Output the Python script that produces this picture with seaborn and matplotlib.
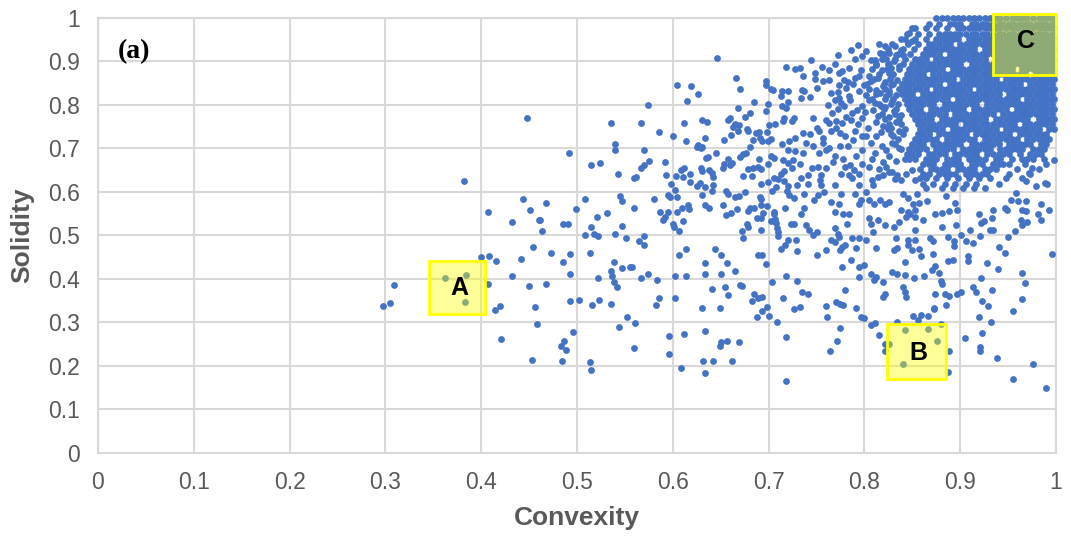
import numpy as np
import pandas as pd
import seaborn as sns
import matplotlib.pyplot as plt
from matplotlib.patches import Rectangle

# ---------------- data ----------------
# sparse left / middle part of the cloud
left_conv = [0.382, 0.444, 0.407, 0.451, 0.432, 0.460, 0.454, 0.400, 0.408, 0.415, 0.442, 0.432,
             0.362, 0.384, 0.407, 0.450, 0.309, 0.305, 0.297, 0.383, 0.414, 0.420, 0.456, 0.458,
             0.421, 0.453, 0.448]
left_sol = [0.625, 0.583, 0.554, 0.559, 0.531, 0.536, 0.474, 0.450, 0.453, 0.442, 0.445, 0.407,
            0.401, 0.409, 0.388, 0.383, 0.386, 0.345, 0.338, 0.347, 0.329, 0.338, 0.335, 0.295,
            0.262, 0.214, 0.770]

mid_conv = [0.646, 0.718, 0.728, 0.666, 0.604, 0.619, 0.670, 0.626, 0.615, 0.697, 0.697, 0.703, 0.705,
            0.714, 0.720, 0.713, 0.720, 0.714, 0.718, 0.685, 0.699, 0.697, 0.668, 0.681, 0.675, 0.574,
            0.535, 0.567, 0.612, 0.630, 0.636, 0.660, 0.658, 0.665, 0.669, 0.663, 0.668, 0.677, 0.679,
            0.687, 0.690, 0.698, 0.700, 0.707, 0.715, 0.724, 0.726, 0.716, 0.586, 0.600, 0.614, 0.634,
            0.626, 0.631, 0.629, 0.625, 0.645, 0.653, 0.661, 0.684, 0.691, 0.693, 0.699, 0.702, 0.681,
            0.721, 0.728, 0.714, 0.720, 0.728, 0.540, 0.540, 0.570, 0.492, 0.515, 0.524, 0.543, 0.567,
            0.570, 0.575, 0.562, 0.559, 0.592, 0.593, 0.603, 0.609, 0.612, 0.611, 0.618, 0.618, 0.625,
            0.628, 0.629, 0.630, 0.635, 0.637, 0.638, 0.641, 0.642, 0.634, 0.642, 0.641, 0.652, 0.653,
            0.658, 0.660, 0.662, 0.670, 0.673, 0.676, 0.673, 0.679, 0.684, 0.689, 0.692, 0.683, 0.690,
            0.699, 0.702, 0.706, 0.715, 0.720, 0.725, 0.724, 0.716, 0.713, 0.706, 0.710, 0.716, 0.720,
            0.692, 0.699, 0.708, 0.704, 0.719, 0.721, 0.727, 0.730, 0.598, 0.602, 0.595, 0.597, 0.604,
            0.580, 0.595, 0.587, 0.604, 0.610, 0.616, 0.617, 0.611, 0.592, 0.590, 0.600, 0.601, 0.606,
            0.630, 0.634, 0.638, 0.652, 0.656, 0.658, 0.665, 0.669, 0.675, 0.656, 0.661, 0.667, 0.679,
            0.681, 0.685, 0.691, 0.692, 0.692, 0.698, 0.688, 0.692, 0.694, 0.706, 0.706, 0.702, 0.707,
            0.708, 0.709, 0.710, 0.710, 0.717, 0.723, 0.726, 0.720, 0.717, 0.713, 0.729, 0.730, 0.677,
            0.679, 0.672, 0.673, 0.692, 0.468, 0.461, 0.463, 0.485, 0.491, 0.499, 0.508, 0.521, 0.531,
            0.515, 0.518, 0.522, 0.508, 0.540, 0.547, 0.545, 0.547, 0.559, 0.551, 0.565, 0.570, 0.570,
            0.473, 0.493, 0.514, 0.485, 0.493, 0.468, 0.522, 0.539, 0.535, 0.547, 0.555, 0.557, 0.537,
            0.539, 0.542, 0.567, 0.574, 0.584, 0.602, 0.614, 0.606, 0.614, 0.634, 0.634, 0.644, 0.650,
            0.657, 0.665, 0.650, 0.641, 0.654, 0.658, 0.670, 0.672, 0.630, 0.649, 0.683, 0.685, 0.689,
            0.693, 0.689, 0.693, 0.697, 0.704, 0.718, 0.730, 0.715, 0.727, 0.698, 0.693, 0.700, 0.688,
            0.709, 0.718, 0.493, 0.502, 0.516, 0.523, 0.536, 0.582, 0.586, 0.602, 0.552, 0.561, 0.544,
            0.496, 0.486, 0.483, 0.488, 0.484, 0.514, 0.515, 0.560, 0.596, 0.612, 0.596, 0.609, 0.634,
            0.649, 0.650, 0.657, 0.669, 0.632, 0.642, 0.662, 0.634, 0.718]
mid_sol = [0.908, 0.888, 0.882, 0.861, 0.846, 0.844, 0.837, 0.826, 0.810, 0.854, 0.846, 0.836, 0.834,
           0.833, 0.831, 0.820, 0.806, 0.798, 0.792, 0.807, 0.803, 0.787, 0.793, 0.782, 0.772, 0.799,
           0.758, 0.758, 0.758, 0.766, 0.761, 0.770, 0.766, 0.757, 0.754, 0.749, 0.740, 0.745, 0.740,
           0.735, 0.737, 0.737, 0.755, 0.756, 0.762, 0.764, 0.770, 0.769, 0.737, 0.728, 0.717, 0.724,
           0.708, 0.704, 0.702, 0.703, 0.690, 0.720, 0.730, 0.720, 0.725, 0.717, 0.716, 0.721, 0.704,
           0.717, 0.724, 0.710, 0.697, 0.693, 0.710, 0.696, 0.696, 0.690, 0.661, 0.666, 0.642, 0.656,
           0.661, 0.670, 0.635, 0.631, 0.669, 0.639, 0.637, 0.650, 0.654, 0.634, 0.642, 0.622, 0.613,
           0.621, 0.656, 0.648, 0.678, 0.680, 0.651, 0.643, 0.635, 0.611, 0.616, 0.601, 0.656, 0.663,
           0.675, 0.662, 0.666, 0.680, 0.688, 0.690, 0.637, 0.653, 0.654, 0.657, 0.653, 0.637, 0.675,
           0.664, 0.683, 0.678, 0.674, 0.666, 0.674, 0.655, 0.647, 0.640, 0.631, 0.630, 0.624, 0.614,
           0.619, 0.622, 0.611, 0.601, 0.601, 0.592, 0.586, 0.616, 0.619, 0.605, 0.592, 0.588, 0.589,
           0.584, 0.553, 0.553, 0.554, 0.563, 0.569, 0.560, 0.533, 0.543, 0.535, 0.526, 0.520, 0.510,
           0.592, 0.569, 0.562, 0.569, 0.601, 0.595, 0.588, 0.591, 0.599, 0.546, 0.551, 0.560, 0.556,
           0.563, 0.563, 0.589, 0.583, 0.569, 0.567, 0.539, 0.539, 0.551, 0.553, 0.548, 0.533, 0.537,
           0.528, 0.517, 0.507, 0.498, 0.564, 0.525, 0.525, 0.490, 0.477, 0.469, 0.489, 0.465, 0.527,
           0.520, 0.510, 0.495, 0.513, 0.575, 0.536, 0.510, 0.525, 0.525, 0.560, 0.584, 0.543, 0.551,
           0.519, 0.504, 0.499, 0.500, 0.503, 0.522, 0.591, 0.580, 0.563, 0.493, 0.486, 0.498, 0.477,
           0.460, 0.457, 0.460, 0.439, 0.410, 0.389, 0.401, 0.439, 0.419, 0.425, 0.428, 0.428, 0.407,
           0.392, 0.382, 0.401, 0.412, 0.398, 0.407, 0.407, 0.454, 0.468, 0.436, 0.410, 0.468, 0.454,
           0.436, 0.418, 0.410, 0.377, 0.382, 0.362, 0.386, 0.383, 0.333, 0.333, 0.350, 0.365, 0.355,
           0.359, 0.454, 0.454, 0.433, 0.392, 0.407, 0.395, 0.356, 0.330, 0.336, 0.327, 0.315, 0.313,
           0.300, 0.266, 0.349, 0.352, 0.339, 0.352, 0.342, 0.339, 0.357, 0.357, 0.313, 0.298, 0.289,
           0.277, 0.256, 0.245, 0.236, 0.212, 0.209, 0.191, 0.242, 0.268, 0.274, 0.227, 0.194, 0.280,
           0.245, 0.254, 0.257, 0.254, 0.212, 0.212, 0.212, 0.183, 0.165]

# upper-middle part (convexity 0.73 - 0.86)
upper_conv = [0.733, 0.736, 0.744, 0.748, 0.748, 0.756, 0.763, 0.769, 0.772, 0.786, 0.793, 0.802, 0.807,
              0.811, 0.816, 0.821, 0.823, 0.833, 0.838, 0.842, 0.847, 0.850, 0.845, 0.850, 0.774, 0.777,
              0.784, 0.757, 0.763, 0.773, 0.772, 0.779, 0.783, 0.790, 0.794, 0.796, 0.805, 0.807, 0.814,
              0.812, 0.819, 0.826, 0.828, 0.735, 0.737, 0.734, 0.743, 0.751, 0.762, 0.765, 0.769, 0.774,
              0.776, 0.779, 0.784, 0.785, 0.787, 0.792, 0.798, 0.802, 0.805, 0.809, 0.814, 0.817, 0.823,
              0.746, 0.760, 0.763, 0.770, 0.777, 0.786, 0.770, 0.775, 0.780, 0.750, 0.753, 0.743, 0.736,
              0.739, 0.746, 0.757, 0.760, 0.769, 0.775, 0.788, 0.791, 0.802, 0.807, 0.812, 0.819, 0.823,
              0.798, 0.736, 0.753,
              0.733, 0.734, 0.741, 0.745, 0.752, 0.754, 0.755, 0.760, 0.769, 0.776, 0.780, 0.785, 0.784,
              0.787, 0.794, 0.790, 0.796, 0.794, 0.802, 0.805, 0.810, 0.816, 0.821, 0.826, 0.809, 0.814,
              0.819, 0.823, 0.829, 0.834, 0.838, 0.843, 0.850, 0.853, 0.840, 0.846, 0.851, 0.855, 0.838,
              0.845, 0.848, 0.853, 0.805, 0.794, 0.741, 0.755]
upper_sol = [0.884, 0.867, 0.903, 0.873, 0.860, 0.887, 0.881, 0.895, 0.914, 0.926, 0.939, 0.923, 0.903,
             0.904, 0.919, 0.935, 0.906, 0.916, 0.927, 0.952, 0.965, 0.977, 0.942, 0.946, 0.873, 0.877,
             0.885, 0.854, 0.857, 0.847, 0.829, 0.858, 0.852, 0.862, 0.866, 0.881, 0.867, 0.854, 0.862,
             0.835, 0.843, 0.873, 0.885, 0.835, 0.831, 0.816, 0.818, 0.839, 0.801, 0.827, 0.812, 0.816,
             0.804, 0.797, 0.820, 0.812, 0.781, 0.789, 0.797, 0.824, 0.812, 0.789, 0.774, 0.797, 0.820,
             0.770, 0.766, 0.758, 0.762, 0.758, 0.766, 0.747, 0.735, 0.728, 0.747, 0.739, 0.732, 0.735,
             0.712, 0.705, 0.712, 0.697, 0.682, 0.705, 0.720, 0.682, 0.728, 0.712, 0.728, 0.751, 0.697,
             0.697, 0.689, 0.689,
             0.665, 0.631, 0.619, 0.654, 0.658, 0.627, 0.615, 0.654, 0.615, 0.642, 0.658, 0.661, 0.638,
             0.631, 0.615, 0.596, 0.581, 0.573, 0.600, 0.581, 0.573, 0.581, 0.573, 0.577, 0.615, 0.635,
             0.638, 0.658, 0.646, 0.638, 0.627, 0.642, 0.650, 0.627, 0.596, 0.585, 0.573, 0.596, 0.558,
             0.554, 0.550, 0.542, 0.658, 0.642, 0.638, 0.638]

# further estimated points in the busy zone left of the core
edge_conv = [0.790, 0.797, 0.812, 0.818, 0.825, 0.831, 0.836, 0.829, 0.834, 0.822, 0.828, 0.816,
             0.826, 0.833, 0.829, 0.822, 0.835, 0.831, 0.826, 0.838, 0.833, 0.828, 0.836, 0.830,
             0.817, 0.812, 0.804, 0.798, 0.793, 0.801, 0.811, 0.794, 0.800, 0.788, 0.781, 0.772,
             0.766, 0.781, 0.790, 0.797, 0.783, 0.811, 0.818, 0.829, 0.836, 0.826, 0.833, 0.819,
             0.808, 0.797, 0.815, 0.826, 0.832, 0.808, 0.789, 0.778, 0.767, 0.763, 0.757, 0.765,
             0.840, 0.832, 0.826, 0.815]
edge_sol = [0.905, 0.912, 0.893, 0.880, 0.895, 0.902, 0.890, 0.868, 0.858, 0.852, 0.845, 0.828,
            0.832, 0.822, 0.808, 0.795, 0.802, 0.786, 0.772, 0.776, 0.760, 0.748, 0.740, 0.728,
            0.738, 0.760, 0.748, 0.770, 0.756, 0.783, 0.805, 0.832, 0.845, 0.848, 0.838, 0.790,
            0.782, 0.772, 0.740, 0.728, 0.705, 0.690, 0.705, 0.712, 0.700, 0.682, 0.670, 0.668,
            0.676, 0.665, 0.652, 0.645, 0.630, 0.628, 0.650, 0.675, 0.668, 0.700, 0.725, 0.740,
            0.915, 0.935, 0.920, 0.940]

# lower-middle part (convexity 0.73 - 0.86, solidity below 0.6)
lower_conv = [0.734, 0.737, 0.739, 0.742, 0.746, 0.750, 0.737, 0.747, 0.752, 0.758, 0.765, 0.769, 0.774,
              0.776, 0.778, 0.784, 0.782, 0.769, 0.772, 0.774, 0.765, 0.769, 0.777, 0.775, 0.780, 0.787,
              0.794, 0.750, 0.760, 0.786, 0.777, 0.791, 0.794, 0.800, 0.794, 0.802, 0.807, 0.805, 0.809,
              0.814, 0.821, 0.831, 0.836, 0.833, 0.834, 0.831, 0.812, 0.807, 0.812, 0.810, 0.819, 0.829,
              0.834, 0.842, 0.842, 0.840, 0.842, 0.852, 0.821, 0.819, 0.843, 0.845, 0.846, 0.850, 0.853,
              0.853, 0.843, 0.853, 0.735, 0.741, 0.733, 0.760, 0.770, 0.775, 0.778, 0.780, 0.791,
              0.761, 0.775, 0.771, 0.764, 0.796, 0.800, 0.807, 0.811, 0.815, 0.822, 0.822, 0.826, 0.842,
              0.840, 0.834, 0.851, 0.856]
lower_sol = [0.550, 0.562, 0.523, 0.512, 0.500, 0.508, 0.596, 0.581, 0.592, 0.600, 0.577, 0.554, 0.573,
             0.596, 0.550, 0.550, 0.527, 0.516, 0.504, 0.497, 0.489, 0.485, 0.473, 0.466, 0.477, 0.493,
             0.493, 0.454, 0.466, 0.443, 0.427, 0.470, 0.427, 0.431, 0.404, 0.489, 0.527, 0.539, 0.508,
             0.535, 0.523, 0.519, 0.531, 0.493, 0.470, 0.466, 0.470, 0.412, 0.404, 0.397, 0.393, 0.416,
             0.412, 0.439, 0.408, 0.381, 0.370, 0.401, 0.366, 0.358, 0.358, 0.489, 0.477, 0.466, 0.489,
             0.512, 0.542, 0.558, 0.370, 0.366, 0.335, 0.338, 0.347, 0.343, 0.339, 0.374, 0.333,
             0.313, 0.286, 0.256, 0.233, 0.313, 0.309, 0.294, 0.299, 0.271, 0.250, 0.235, 0.250, 0.282,
             0.203, 0.300, 0.315, 0.305]

# right part (convexity above 0.86, solidity below 0.6)
right_conv = [0.996, 0.965, 0.968, 0.965, 0.922, 0.913, 0.917, 0.933, 0.923, 0.929, 0.928, 0.939, 0.908,
              0.908, 0.906, 0.913, 0.921, 0.941, 0.947, 0.950, 0.901, 0.894, 0.887, 0.894, 0.892, 0.887,
              0.872, 0.857, 0.859, 0.868, 0.872, 0.874, 0.871, 0.878, 0.880, 0.881, 0.862, 0.874, 0.884,
              0.888, 0.897, 0.901, 0.873, 0.885, 0.881, 0.896, 0.910, 0.931, 0.934, 0.957, 0.965, 0.970,
              0.963, 0.965, 0.969, 0.949, 0.947, 0.934, 0.933, 0.925, 0.922, 0.920, 0.953, 0.960, 0.969,
              0.984, 0.981, 0.984, 0.993, 0.969, 0.979, 0.988, 0.991, 0.998, 0.958, 0.972, 0.975, 0.861,
              0.857, 0.865, 0.874, 0.881, 0.888, 0.897, 0.895, 0.885,
              0.859, 0.866, 0.873, 0.866, 0.880, 0.876, 0.888, 0.887, 0.920, 0.932, 0.955, 0.905, 0.923,
              0.921, 0.921, 0.938, 0.976, 0.955, 0.990]
right_sol = [0.457, 0.414, 0.391, 0.354, 0.402, 0.381, 0.369, 0.375, 0.348, 0.337, 0.437, 0.423, 0.452,
             0.440, 0.487, 0.483, 0.498, 0.473, 0.460, 0.496, 0.500, 0.488, 0.496, 0.475, 0.444, 0.440,
             0.457, 0.469, 0.452, 0.493, 0.488, 0.429, 0.421, 0.414, 0.394, 0.387, 0.406, 0.365, 0.365,
             0.360, 0.364, 0.369, 0.333, 0.339, 0.519, 0.523, 0.513, 0.513, 0.513, 0.511, 0.523, 0.530,
             0.536, 0.559, 0.555, 0.559, 0.563, 0.559, 0.540, 0.533, 0.529, 0.548, 0.582, 0.579, 0.579,
             0.571, 0.548, 0.536, 0.559, 0.625, 0.613, 0.621, 0.617, 0.674, 0.598, 0.644, 0.655, 0.536,
             0.575, 0.579, 0.548, 0.552, 0.556, 0.559, 0.575, 0.590,
             0.317, 0.315, 0.331, 0.285, 0.296, 0.256, 0.235, 0.185, 0.312, 0.300, 0.327, 0.264, 0.275,
             0.244, 0.233, 0.219, 0.203, 0.170, 0.149]

# dense core: solidity of each row and the convexity values (per mille) in that row
core_sol = [0.999, 0.987, 0.976, 0.964, 0.952, 0.941, 0.929, 0.918, 0.906, 0.895, 0.883, 0.872,
            0.860, 0.849, 0.837, 0.826, 0.814, 0.803, 0.791, 0.780, 0.768, 0.757, 0.745, 0.734,
            0.722, 0.711, 0.699, 0.688, 0.676, 0.665, 0.653, 0.642, 0.631, 0.619, 0.608]
core_conv = [
    [875, 881, 886, 892, 898, 903, 909, 914, 920, 926, 931, 937, 942, 948, 954, 959, 965, 970, 976, 982, 987, 993, 998],
    [867, 878, 889, 895, 900, 912, 917, 923, 928, 934, 940, 945, 951, 956, 962, 968, 973, 979, 984, 990, 996],
    [853, 864, 875, 886, 898, 903, 909, 914, 920, 926, 931, 937, 942, 948, 954, 959, 965, 970, 976, 982, 987, 993, 998],
    [844, 856, 867, 878, 884, 889, 895, 900, 906, 912, 917, 923, 928, 934, 940, 945, 951, 956, 962, 968, 973, 979, 984, 990, 996],
    [838, 853, 864, 875, 881, 886, 892, 898, 909, 914, 920, 926, 931, 937, 942, 948, 954, 959, 965, 970, 976, 982, 987, 993, 998],
    [829, 846, 856, 867, 872, 878, 884, 889, 900, 906, 912, 917, 923, 928, 934, 940, 945, 951, 956, 962, 968, 973, 979, 984, 990, 996],
    [825, 840, 852, 864, 870, 875, 881, 886, 892, 898, 903, 909, 914, 926, 931, 937, 942, 948, 954, 959, 965, 970, 976, 982, 987, 993, 998],
    [820, 835, 848, 861, 867, 872, 878, 889, 895, 900, 906, 912, 917, 923, 928, 934, 940, 945, 951, 956, 962, 968, 973, 979, 984, 990, 996],
    [818, 832, 842, 853, 858, 864, 875, 881, 886, 892, 898, 903, 909, 914, 920, 926, 937, 942, 948, 954, 959, 965, 970, 976, 982, 987, 993, 998],
    [812, 826, 840, 850, 856, 861, 867, 872, 878, 884, 889, 895, 900, 912, 917, 923, 928, 934, 940, 945, 951, 956, 962, 968, 973, 979, 984, 990, 996],
    [808, 824, 836, 847, 853, 858, 864, 870, 875, 881, 892, 898, 903, 909, 914, 920, 926, 931, 937, 942, 948, 954, 965, 970, 976, 982, 987, 993, 998],
    [815, 830, 844, 850, 856, 861, 872, 878, 884, 889, 895, 900, 906, 912, 917, 923, 928, 934, 940, 945, 951, 956, 962, 968, 979, 984, 990, 996],
    [810, 827, 842, 847, 853, 858, 864, 870, 875, 881, 886, 892, 903, 909, 914, 920, 926, 931, 937, 948, 954, 959, 965, 970, 976, 982, 987, 993, 998],
    [803, 820, 830, 839, 844, 850, 856, 861, 867, 872, 878, 889, 895, 900, 906, 912, 917, 923, 928, 934, 940, 945, 951, 956, 962, 973, 979, 984, 990, 996],
    [805, 822, 836, 842, 847, 853, 858, 864, 875, 881, 886, 892, 898, 903, 909, 920, 926, 931, 937, 942, 948, 954, 959, 965, 970, 976, 982, 987, 993, 998],
    [812, 826, 839, 844, 850, 861, 867, 872, 878, 884, 889, 895, 900, 906, 912, 917, 923, 928, 934, 940, 951, 956, 962, 968, 973, 979, 984, 990, 996],
    [808, 822, 830, 842, 847, 853, 858, 864, 870, 875, 881, 886, 898, 903, 909, 914, 920, 926, 931, 937, 942, 948, 954, 959, 970, 976, 982, 987, 993, 998],
    [815, 828, 844, 850, 856, 861, 867, 872, 884, 889, 895, 900, 906, 912, 917, 928, 934, 940, 945, 951, 956, 962, 968, 973, 979, 984, 990, 996],
    [820, 833, 847, 853, 858, 870, 875, 881, 886, 892, 898, 903, 914, 920, 926, 931, 937, 942, 948, 959, 965, 970, 976, 982, 987, 993, 998],
    [818, 832, 850, 856, 861, 867, 872, 878, 884, 895, 900, 906, 912, 917, 923, 928, 934, 945, 951, 956, 962, 968, 973, 979, 984, 990, 996],
    [822, 836, 853, 858, 864, 870, 881, 886, 892, 898, 903, 909, 914, 920, 926, 937, 942, 948, 954, 959, 965, 970, 982, 987, 993, 998],
    [826, 838, 856, 861, 867, 872, 878, 884, 889, 895, 906, 912, 917, 923, 928, 934, 940, 945, 951, 956, 968, 973, 979, 984, 990, 996],
    [825, 842, 858, 864, 870, 875, 881, 892, 898, 903, 909, 914, 920, 926, 931, 937, 948, 954, 959, 965, 970, 976, 982, 993, 998],
    [828, 840, 856, 861, 867, 878, 884, 889, 895, 900, 906, 917, 923, 928, 934, 940, 945, 951, 962, 968, 973, 979, 984, 990],
    [835, 853, 858, 864, 870, 875, 886, 892, 898, 903, 909, 914, 926, 931, 937, 942, 948, 954, 959, 970, 976, 982, 987, 993],
    [832, 850, 856, 861, 872, 878, 884, 889, 895, 900, 912, 917, 923, 928, 934, 940, 951, 956, 962, 968, 973, 984, 990],
    [838, 847, 853, 858, 864, 875, 881, 886, 892, 903, 909, 914, 920, 926, 931, 942, 948, 954, 959, 965, 976, 982, 987],
    [844, 850, 856, 867, 872, 878, 884, 895, 900, 906, 912, 917, 928, 934, 940, 945, 951, 962, 973, 979, 984],
    [842, 847, 853, 864, 870, 875, 886, 892, 898, 909, 914, 920, 926, 937, 942, 954, 965, 970, 976, 987],
    [861, 867, 872, 884, 889, 895, 900, 912, 917, 923, 934, 940, 945, 951, 968, 990],
    [858, 870, 875, 881, 886, 898, 903, 909, 914, 926, 931, 937, 959, 982],
    [861, 867, 878, 884, 889, 895, 906, 912, 917, 923, 928, 951, 973],
    [858, 864, 875, 886, 898, 909, 920, 931, 948, 965],
    [861, 872, 884, 895, 906, 917, 940],
    [864, 881, 892, 903, 914, 926],
]

tick_values = [0, 0.1, 0.2, 0.3, 0.4, 0.5, 0.6, 0.7, 0.8, 0.9, 1]
tick_labels = ["0", "0.1", "0.2", "0.3", "0.4", "0.5", "0.6", "0.7", "0.8", "0.9", "1"]

# highlight boxes: (label, x0, y0, x1, y1, text x, text y)
box_labels = ["A", "B", "C"]
box_x0 = [0.345, 0.824, 0.934]
box_y0 = [0.319, 0.169, 0.868]
box_x1 = [0.404, 0.885, 1.000]
box_y1 = [0.442, 0.296, 1.010]
box_tx = [0.377, 0.856, 0.969]
box_ty = [0.378, 0.230, 0.946]

# ---------------- assemble ----------------
core_x, core_y = [], []
for yv, row in zip(core_sol, core_conv):
    for xv in row:
        core_x.append(xv / 1000.0)
        core_y.append(yv)

conv_all = left_conv + mid_conv + upper_conv + edge_conv + lower_conv + right_conv + core_x
sol_all = left_sol + mid_sol + upper_sol + edge_sol + lower_sol + right_sol + core_y
df = pd.DataFrame({"Convexity": conv_all, "Solidity": sol_all})

sns.set_theme(style="white")
plt.rcParams["font.family"] = ["Liberation Sans", "DejaVu Sans"]

fig = plt.figure(figsize=(10.71, 5.37), dpi=100)
ax = fig.add_axes([98 / 1071, 1 - 452.7 / 537, 958 / 1071, 434.7 / 537])

sns.scatterplot(data=df, x="Convexity", y="Solidity", color="#4472C4", s=24,
                linewidth=0, ax=ax, zorder=3, legend=False, clip_on=False)

ax.set_xlim(0, 1)
ax.set_ylim(0, 1)
ax.set_xticks(tick_values)
ax.set_xticklabels(tick_labels)
ax.set_yticks(tick_values)
ax.set_yticklabels(tick_labels)
ax.grid(True, color="#D9D9D9", linewidth=1.5)
ax.set_axisbelow(True)
for sp in ax.spines.values():
    sp.set_color("#D9D9D9")
    sp.set_linewidth(1.5)
ax.tick_params(length=0, pad=13, labelsize=16.5, labelcolor="#595959")

ax.set_xlabel("Convexity", fontsize=19, fontweight="bold", color="#595959")
ax.set_ylabel("Solidity", fontsize=19, fontweight="bold", color="#595959")
ax.xaxis.label.set_va("center")
ax.yaxis.label.set_va("center")
ax.xaxis.set_label_coords(0.5, (452.7 - 518) / 434.7)
ax.yaxis.set_label_coords((22 - 98) / 958, 0.5)

for lab, x0, y0, x1, y1, tx, ty in zip(box_labels, box_x0, box_y0, box_x1, box_y1, box_tx, box_ty):
    ax.add_patch(Rectangle((x0, y0), x1 - x0, y1 - y0, facecolor=(1, 1, 0, 0.4),
                           edgecolor="#FFFF00", linewidth=2, zorder=4, clip_on=False))
    ax.text(tx, ty, lab, ha="center", va="center", fontsize=18, fontweight="bold",
            color="black", zorder=5)

ax.text(0.021, 0.923, "(a)", ha="left", va="center", fontsize=20, fontweight="bold",
        family=["Liberation Serif", "DejaVu Serif"], color="black", zorder=5)

fig.savefig("out.png", dpi=100)
